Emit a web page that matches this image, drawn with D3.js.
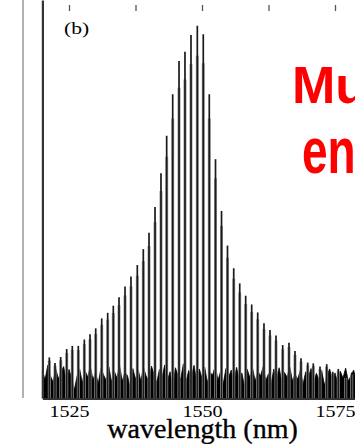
<!DOCTYPE html>
<html>
<head>
<meta charset="utf-8">
<script src="https://cdn.jsdelivr.net/npm/d3@7/dist/d3.min.js"></script>
<style>
  html, body { margin: 0; padding: 0; background: #fff; }
  svg { display: block; }
</style>
</head>
<body>
<svg id="chart" width="355" height="444"></svg>
<script>
// Comb lines: centre wavelength (nm) and peak level (a.u.)
const peakWavelengths = [
  1521.30, 1522.37, 1523.44, 1524.57, 1525.62, 1526.75, 1527.88, 1528.95, 1530.02, 1531.15,
  1532.27, 1533.33, 1534.40, 1535.53, 1536.65, 1537.84, 1538.97, 1540.04, 1541.17, 1542.29,
  1543.36, 1544.49, 1545.68, 1546.80, 1547.93, 1549.12, 1550.24, 1551.37, 1552.54, 1553.67,
  1554.79, 1555.96, 1557.09, 1558.21, 1559.34, 1560.47, 1561.65, 1562.78, 1563.91, 1565.17,
  1566.35, 1567.48, 1568.61, 1569.87, 1570.92, 1572.18, 1573.44, 1574.57, 1575.62, 1577.01,
  1578.14
];
const peakLevels = [
  10.2, 8.8, 10.3, 12.3, 13.1, 13.1, 14.7, 16.0, 17.5, 20.0,
  21.4, 23.2, 25.3, 28.0, 30.5, 33.4, 37.4, 41.5, 48.0, 56.5,
  65.9, 76.3, 84.7, 87.0, 91.2, 93.5, 91.4, 76.3, 60.0, 47.0,
  38.3, 32.6, 28.8, 25.7, 23.5, 21.5, 18.8, 17.1, 15.7, 13.3,
  13.9, 11.8, 10.0, 8.9, 8.7, 7.9, 8.5, 6.6, 7.3, 5.5,
  6.4
];

// Background noise floor, sampled every 0.5 nm from 1520 nm
const noiseStart = 1520;
const noiseStep = 0.5;
const noiseLevels = [
  7.0, 4.5, 8.2, 5.6, 4.0, 7.4, 4.8, 6.6, 7.9, 4.2, 7.2, 5.0, 2.0, 5.4, 7.3, 3.8, 7.0, 5.2, 8.0, 4.6,
  6.4, 3.6, 7.5, 5.8, 4.4, 7.8, 4.0, 6.8, 5.0, 8.3, 4.2, 6.5, 5.6, 2.6, 7.4, 4.7, 7.1, 4.3, 7.7, 5.5,
  4.4, 8.0, 5.9, 3.9, 7.2, 5.3, 8.3, 4.5, 6.6, 2.4, 7.6, 5.7, 4.8, 8.6, 4.1, 6.9, 5.4, 8.2, 4.3, 7.3,
  5.0, 7.8, 3.9, 6.4, 5.8, 8.1, 4.4, 6.7, 3.6, 7.4, 5.3, 7.0, 4.1, 7.7, 4.7, 6.3, 2.8, 7.2, 5.1, 7.5,
  4.2, 6.8, 5.5, 7.9, 4.4, 6.1, 3.7, 7.3, 4.9, 7.6, 4.0, 6.4, 5.2, 7.8, 4.3, 6.0, 4.7, 7.1, 3.5, 6.6,
  5.3, 7.4, 4.1, 6.2, 4.6, 6.9, 3.2, 5.8, 7.3, 4.4, 6.3, 3.9, 6.7, 5.0, 7.5, 4.2, 5.6, 7.0, 4.5, 6.1,
  4.9
];

const bottomTicks = [1525, 1550, 1575];
const topTicks = [1525, 1537.5, 1550, 1562.5, 1575];
const xTitle = "wavelength (nm)";
const panelLabel = "(b)";
const noteLines = ["Multi-wavelength", "entangled"];

const svg = d3.select("#chart");
svg.append("rect").attr("width", 355).attr("height", 444).attr("fill", "#fff");

const x = d3.scaleLinear().domain([1520, 1580]).range([42.4, 361.6]);
const y = d3.scaleLinear().domain([0, 100]).range([398, 0]);

// thin rule at the far left of the panel
svg.append("line")
  .attr("x1", 23).attr("x2", 23).attr("y1", 0).attr("y2", 398)
  .attr("stroke", "#666").attr("stroke-width", 1);

const plot = svg.append("g");

// noise floor
const noise = noiseLevels.map((v, i) => ({ w: noiseStart + i * noiseStep, v }));
plot.append("path")
  .datum(noise)
  .attr("fill", "#000")
  .attr("stroke", "#000")
  .attr("stroke-width", 0.8)
  .attr("d", d3.area().x(d => x(d.w)).y0(y(0)).y1(d => y(d.v)));

// comb lines
const peaks = peakWavelengths.map((w, i) => ({ w, v: peakLevels[i] }));
plot.selectAll("line.halo")
  .data(peaks)
  .join("line")
  .attr("class", "halo")
  .attr("x1", d => x(d.w)).attr("x2", d => x(d.w))
  .attr("y1", y(0)).attr("y2", d => y(d.v * 0.92))
  .attr("stroke", "#999").attr("stroke-width", 3);
plot.selectAll("line.peak")
  .data(peaks)
  .join("line")
  .attr("class", "peak")
  .attr("x1", d => x(d.w)).attr("x2", d => x(d.w))
  .attr("y1", y(0)).attr("y2", d => y(d.v))
  .attr("stroke", "#1a1a1a").attr("stroke-width", 1.7);

// left axis
const yAxis = svg.append("g")
  .attr("transform", `translate(${x(1520)},0)`)
  .call(d3.axisLeft(y).tickValues([]).tickSizeOuter(0));
yAxis.select(".domain").attr("stroke", "#333").attr("stroke-width", 2.2);

// bottom axis
const xAxis = svg.append("g")
  .attr("transform", "translate(0,398.5)")
  .call(d3.axisBottom(x).tickValues(bottomTicks).tickSize(0).tickSizeOuter(0).tickFormat(d3.format("d")));
xAxis.select(".domain").attr("stroke", "#333").attr("stroke-width", 1.8);
xAxis.selectAll(".tick text")
  .attr("y", 18.5).attr("dy", 0)
  .attr("fill", "#000")
  .attr("font-family", "'Liberation Serif', 'Times New Roman', serif")
  .attr("font-size", 17)
  .attr("transform", "scale(1.18,1)");

// top tick marks
const topAxis = svg.append("g")
  .attr("transform", "translate(0,11)")
  .call(d3.axisTop(x).tickValues(topTicks).tickSize(6).tickFormat(""));
topAxis.select(".domain").remove();
topAxis.selectAll(".tick line").attr("stroke", "#555").attr("stroke-width", 1.3);

// panel label
svg.append("text")
  .attr("transform", "translate(64,34) scale(1.35,1)")
  .attr("font-family", "'Liberation Serif', 'Times New Roman', serif")
  .attr("font-size", 16)
  .attr("fill", "#000")
  .text(panelLabel);

// axis title
svg.append("text")
  .attr("x", 202.5).attr("y", 437.5)
  .attr("text-anchor", "middle")
  .attr("font-family", "'Liberation Serif', 'Times New Roman', serif")
  .attr("font-size", 28)
  .attr("fill", "#000")
  .attr("stroke", "#000")
  .attr("stroke-width", 0.35)
  .text(xTitle);

// red annotation
svg.append("text")
  .attr("x", 292).attr("y", 103)
  .attr("font-family", "'Liberation Sans', Arial, sans-serif")
  .attr("font-weight", "bold")
  .attr("font-size", 52)
  .attr("fill", "#ff0000")
  .text(noteLines[0]);
svg.append("text")
  .attr("transform", "translate(302,173) scale(1,1.42)")
  .attr("font-family", "'Liberation Sans', Arial, sans-serif")
  .attr("font-weight", "bold")
  .attr("font-size", 46)
  .attr("fill", "#ff0000")
  .text(noteLines[1]);
</script>
</body>
</html>
